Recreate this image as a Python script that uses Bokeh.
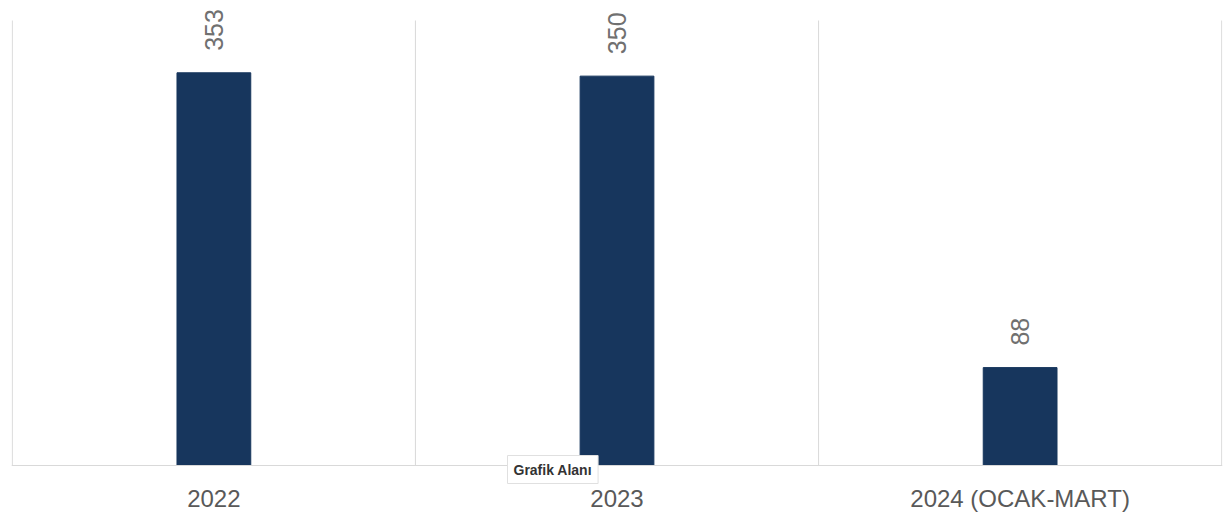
from bokeh.plotting import figure
from bokeh.models import ColumnDataSource, LabelSet, Label, FixedTicker, Range1d, Span
from bokeh.core.properties import value
from bokeh.embed import file_html
from bokeh.resources import INLINE

categories = ["2022", "2023", "2024 (OCAK-MART)"]
values = [353, 350, 88]
y_axis_max = 400

n = len(categories)
xs = [i + 0.5 for i in range(n)]
src = ColumnDataSource(dict(x=xs, top=values, label=[str(v) for v in values]))
bounds = list(range(n + 1))
grid_src = ColumnDataSource(dict(x0=bounds, x1=bounds, y0=[0] * len(bounds), y1=[y_axis_max] * len(bounds)))

p = figure(width=1223, height=514, output_backend="svg", toolbar_location=None,
           x_range=Range1d(-0.002, n + 0.002),
           y_range=Range1d(-y_axis_max * 19 / 445, y_axis_max * 465 / 445),
           min_border_left=11, min_border_right=1, min_border_top=0, min_border_bottom=30)
p.outline_line_color = None
p.background_fill_color = "white"
p.border_fill_color = "white"

p.segment(x0="x0", y0="y0", x1="x1", y1="y1", source=grid_src, line_color="#d9d9d9", line_width=1)
p.add_layout(Span(location=0, dimension="width", line_color="#d9d9d9", line_width=1))
p.vbar(x="x", top="top", bottom=0, width=0.183, source=src, color="#17365d")

labels = LabelSet(x="x", y="top", text="label", source=src, angle=90, angle_units="deg",
                  text_align="left", text_baseline="middle", y_offset=22,
                  text_font=value("Liberation Sans"), text_font_size="25px", text_color="#707070")
p.add_layout(labels)

p.yaxis.visible = False
p.ygrid.grid_line_color = None
p.xgrid.grid_line_color = None

p.xaxis.ticker = FixedTicker(ticks=xs)
p.xaxis.major_label_overrides = {x: c for x, c in zip(xs, categories)}
p.xaxis.axis_line_color = None
p.xaxis.major_tick_line_color = None
p.xaxis.minor_tick_line_color = None
p.xaxis.major_label_text_font = "Liberation Sans"
p.xaxis.major_label_text_font_size = "24px"
p.xaxis.major_label_text_color = "#595959"
p.xaxis.major_label_standoff = -6

tip = Label(x=496, y=1, x_units="screen", y_units="screen", text="Grafik Alanı",
            text_font="Liberation Sans", text_font_size="14px", text_color="#333333",
            text_font_style="bold",
            background_fill_color="white", border_line_color="#e0e0e0", padding=6)
p.add_layout(tip)

open("out.html", "w").write(file_html(p, INLINE))
